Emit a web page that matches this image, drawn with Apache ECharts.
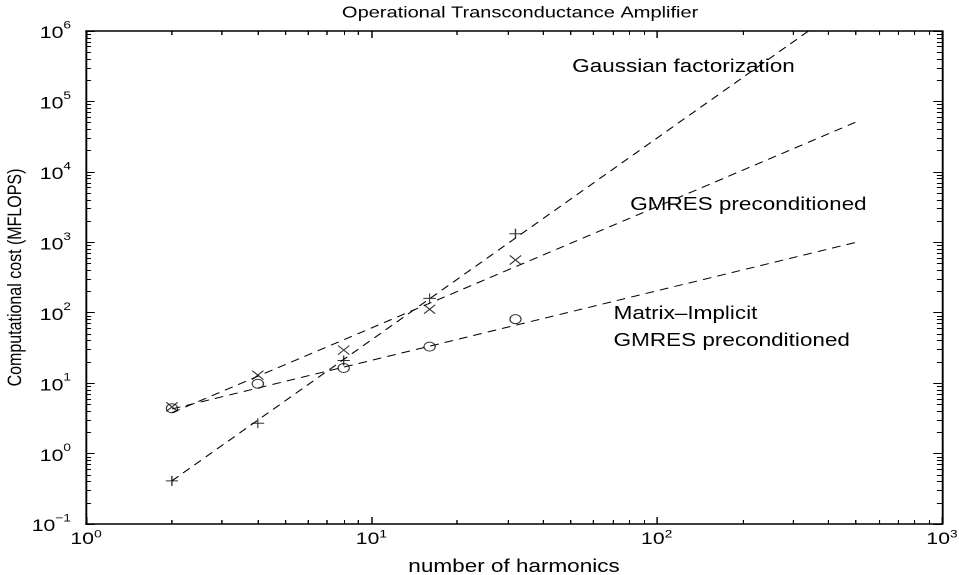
<!DOCTYPE html>
<html>
<head>
<meta charset="utf-8">
<script src="https://cdn.jsdelivr.net/npm/echarts@6/dist/echarts.min.js"></script>
<style>
  html, body { margin: 0; padding: 0; background: #fff; overflow: hidden; }
  /* the reference is stretched sideways, so the chart is drawn narrower and scaled */
  #chart { width: 767px; height: 575px; transform: scaleX(1.2503); transform-origin: 0 0; }
</style>
</head>
<body>
<div id="chart"></div>
<script>
var harmonics = [2, 4, 8, 16, 32];
var gaussCost = [0.41, 2.7, 21, 160, 1320];
var gmresCost = [4.6, 13, 29.5, 112, 560];
var implicitCost = [4.4, 9.8, 16.4, 33, 81];

// dashed fit lines, read at both ends
var fitX = [2, 500];
var gaussFit = [0.41, 3.0e6];
var gmresFit = [3.8, 5.1e4];
var implicitFit = [4.3, 1000];

var xDecades = [0, 1, 2, 3];
var yDecades = [-1, 0, 1, 2, 3, 4, 5, 6];
var minorSteps = [2, 3, 4, 5, 6, 7, 8, 9];

function minorExp(decades) {
    var out = [];
    for (var i = 0; i < decades.length - 1; i++) {
        for (var j = 0; j < minorSteps.length; j++) {
            out.push(decades[i] + Math.log10(minorSteps[j]));
        }
    }
    return out;
}

var font = '"Liberation Sans", Arial, Helvetica, sans-serif';

function powLabel(v) {
    var e = Math.round(Math.log10(v));
    return '{b|10}{s|' + (e < 0 ? '\u2212' + (-e) : e) + '}';
}

function pair(xs, ys) {
    return xs.map(function (x, i) { return [x, ys[i]]; });
}

var plusPath = 'path://M0,5L10,5M5,0L5,10';
var crossPath = 'path://M0,0L10,10M10,0L0,10';

var chart = echarts.init(document.getElementById('chart'), null, { devicePixelRatio: 2 });

var lineStyleAxis = { color: '#000', width: 1.5 };

function logAxis(pos, min, max, withLabels, name, nameGap, rich) {
    return {
        type: 'log',
        logBase: 10,
        position: pos,
        min: min,
        max: max,
        name: name || '',
        nameLocation: 'middle',
        nameGap: nameGap || 0,
        nameMoveOverlap: false,
        nameRotate: (pos === 'left') ? 90 : 0,
        nameTextStyle: { fontFamily: font, fontSize: pos === 'left' ? 16 : 18, color: '#000' },
        axisLine: { show: true, onZero: false, lineStyle: lineStyleAxis },
        axisTick: { show: true, inside: true, length: 7, lineStyle: { color: '#000', width: 1 } },
        axisLabel: {
            show: withLabels,
            margin: pos === 'left' ? 12 : 5,
            formatter: powLabel,
            rich: rich
        },
        splitLine: { show: false }
    };
}

function minorAxis(pos, min, max, values) {
    return {
        type: 'value',
        position: pos,
        min: min,
        max: max,
        axisLine: { show: false, onZero: false },
        axisTick: { show: true, inside: true, length: 4, customValues: values, lineStyle: { color: '#000', width: 1 } },
        axisLabel: { show: false },
        splitLine: { show: false }
    };
}

var yRich = {
    b: { fontFamily: font, fontSize: 17, color: '#000', verticalAlign: 'bottom', padding: [5, 0, 0, 0] },
    s: { fontFamily: font, fontSize: 11, color: '#000', verticalAlign: 'top' }
};
var xRich = {
    b: { fontFamily: font, fontSize: 17, color: '#000', verticalAlign: 'bottom', padding: [2, 0, 0, 0] },
    s: { fontFamily: font, fontSize: 11, color: '#000', verticalAlign: 'top' }
};

var dash = { color: '#000', width: 1, type: [7, 5] };

function fitSeries(ys) {
    return {
        type: 'line',
        data: pair(fitX, ys),
        showSymbol: false,
        symbol: 'none',
        lineStyle: dash,
        clip: true,
        silent: true,
        z: 2
    };
}

function markSeries(ys, symbol, size) {
    return {
        type: 'scatter',
        data: pair(harmonics, ys),
        symbol: symbol,
        symbolSize: size,
        itemStyle: { color: 'rgba(0,0,0,0)', borderColor: '#000', borderWidth: 1 },
        z: 3
    };
}

function note(text, x, y) {
    return {
        type: 'text',
        left: x,
        top: y,
        style: { text: text, fontFamily: font, fontSize: 18, fill: '#000' }
    };
}

var option = {
    backgroundColor: '#fff',
    animation: false,
    title: {
        text: 'Operational Transconductance Amplifier',
        left: 411,
        textAlign: 'center',
        top: 0,
        textStyle: { fontFamily: font, fontSize: 16, fontWeight: 'normal', color: '#000' }
    },
    grid: { left: 68.8, right: 13.6, top: 31, bottom: 51, containLabel: false, outerBoundsMode: 'none' },
    xAxis: [
        logAxis('bottom', 1, 1000, true, 'number of harmonics', 34, xRich),
        minorAxis('bottom', 0, 3, minorExp(xDecades)),
        logAxis('top', 1, 1000, false),
        minorAxis('top', 0, 3, minorExp(xDecades))
    ],
    yAxis: [
        logAxis('left', 0.1, 1e6, true, 'Computational cost (MFLOPS)', 48, yRich),
        minorAxis('left', -1, 6, minorExp(yDecades)),
        logAxis('right', 0.1, 1e6, false),
        minorAxis('right', -1, 6, minorExp(yDecades))
    ],
    graphic: [
        note('Gaussian factorization', 457.6, 58),
        note('GMRES preconditioned', 504, 196),
        note('Matrix\u2013Implicit', 490.7, 305),
        note('GMRES preconditioned', 490.7, 332)
    ],
    series: [
        fitSeries(gaussFit),
        fitSeries(gmresFit),
        fitSeries(implicitFit),
        markSeries(gaussCost, plusPath, 10),
        markSeries(gmresCost, crossPath, 9),
        markSeries(implicitCost, 'circle', 9)
    ]
};

chart.setOption(option);
</script>
</body>
</html>
